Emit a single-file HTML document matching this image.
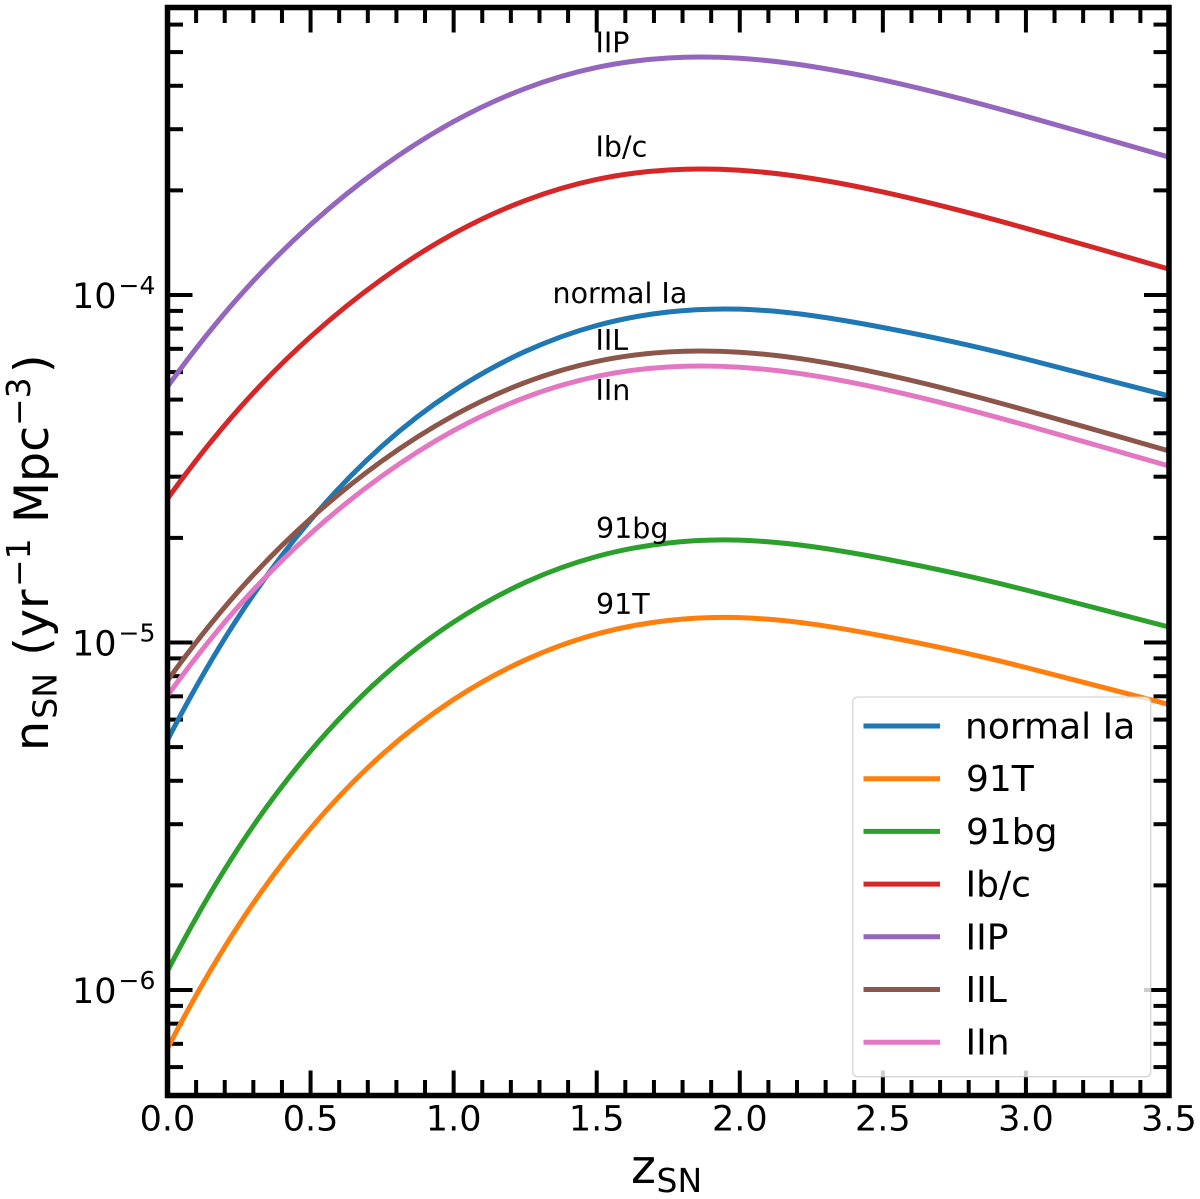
<!DOCTYPE html>
<html lang="en">
<head>
<meta charset="utf-8">
<title>Supernova rate density vs redshift</title>
<style>
html,body{margin:0;padding:0;background:#fff;}
svg{display:block;}
text{font-family:"DejaVu Sans","Liberation Sans",sans-serif;fill:#000;}
.tick{stroke:#000;fill:none;}
.spine{stroke:#000;stroke-width:5.5;fill:none;stroke-linejoin:miter;}
.curve{fill:none;stroke-width:5;}
.s0{stroke:#1f77b4;}.s1{stroke:#ff7f0e;}.s2{stroke:#2ca02c;}.s3{stroke:#d62728;}
.s4{stroke:#9467bd;}.s5{stroke:#8c564b;}.s6{stroke:#e377c2;}
.tl{font-size:35px;}
.sup{font-size:25px;}
.note{font-size:28.5px;}
.leg{font-size:36px;}
.leg-line{stroke-width:5;fill:none;}
.axt{font-size:47.5px;}
.axs{font-size:33px;}
</style>
</head>
<body>
<svg id="chart" xmlns="http://www.w3.org/2000/svg" width="1200" height="1199" viewBox="0 0 1200 1199">
  <defs><clipPath id="plot-clip"><rect x="167.5" y="7.5" width="1001.5" height="1088"/></clipPath></defs>
  <rect x="0" y="0" width="1200" height="1199" fill="#fff"/>
  <g id="ticks"></g>
  <g id="curves" clip-path="url(#plot-clip)"></g>

  <g>
    <text class="note" x="595.5" y="52.5">IIP</text>
    <text class="note" x="595.5" y="156.5">Ib/c</text>
    <text class="note" x="552.5" y="303">normal Ia</text>
    <text class="note" x="595.5" y="350">IIL</text>
    <text class="note" x="595.5" y="400">IIn</text>
    <text class="note" x="596" y="538">91bg</text>
    <text class="note" x="596" y="614">91T</text>
  </g>

  <g>
    <rect x="852.7" y="697" width="298" height="379.7" rx="5" ry="5" fill="#fff" fill-opacity="0.8" stroke="#ccc" stroke-opacity="0.8" stroke-width="1.3"/>
    <g><line class="leg-line s0" x1="863.5" x2="940" y1="726" y2="726"/><text class="leg" x="965" y="738.5">normal Ia</text></g>
    <g><line class="leg-line s1" x1="863.5" x2="940" y1="778.7" y2="778.7"/><text class="leg" x="966" y="791.2">91T</text></g>
    <g><line class="leg-line s2" x1="863.5" x2="940" y1="831.4" y2="831.4"/><text class="leg" x="966" y="843.9">91bg</text></g>
    <g><line class="leg-line s3" x1="863.5" x2="940" y1="884.1" y2="884.1"/><text class="leg" x="965.5" y="896.6">Ib/c</text></g>
    <g><line class="leg-line s4" x1="863.5" x2="940" y1="936.8" y2="936.8"/><text class="leg" x="965.5" y="949.3">IIP</text></g>
    <g><line class="leg-line s5" x1="863.5" x2="940" y1="989.5" y2="989.5"/><text class="leg" x="965.5" y="1002">IIL</text></g>
    <g><line class="leg-line s6" x1="863.5" x2="940" y1="1042.2" y2="1042.2"/><text class="leg" x="965.5" y="1054.7">IIn</text></g>
  </g>

  <rect class="spine" x="167.5" y="7.5" width="1001.5" height="1088"/>
  <g id="tick-labels"></g>

  <text transform="translate(48,751) rotate(-90)"><tspan class="axt" x="0" y="0">n</tspan><tspan class="axs" x="32.3" y="8.5">SN</tspan><tspan class="axt" x="95.3" y="0">(yr</tspan><tspan class="axs" x="164" y="-18">−1</tspan><tspan class="axt" x="228" y="0">Mpc</tspan><tspan class="axs" x="325" y="-18">−3</tspan><tspan class="axt" x="378" y="0">)</tspan></text>
  <text><tspan class="axt" x="631" y="1183">z</tspan><tspan class="axs" x="656.5" y="1192">SN</tspan></text>
</svg>

<script>
// Redshift sample positions
const redshifts = [0, 0.25, 0.5, 0.75, 1, 1.25, 1.5, 1.75, 2, 2.25, 2.5, 2.75, 3, 3.25, 3.5];
// Rate density values (yr^-1 Mpc^-3)
const normalIa = [5.24e-6, 1.192e-5, 2.252e-5, 3.677e-5, 5.293e-5, 6.879e-5, 8.171e-5, 8.935e-5, 9.103e-5, 8.73e-5, 8.063e-5, 7.32e-5, 6.544e-5, 5.789e-5, 5.122e-5];
const type91T = [6.79e-7, 1.544e-6, 2.916e-6, 4.761e-6, 6.855e-6, 8.908e-6, 1.058e-5, 1.157e-5, 1.179e-5, 1.131e-5, 1.044e-5, 9.479e-6, 8.474e-6, 7.497e-6, 6.633e-6];
const type91bg = [1.134e-6, 2.58e-6, 4.873e-6, 7.957e-6, 1.145e-5, 1.489e-5, 1.768e-5, 1.934e-5, 1.97e-5, 1.889e-5, 1.745e-5, 1.584e-5, 1.416e-5, 1.253e-5, 1.108e-5];
const typeIbc = [2.593e-5, 4.708e-5, 7.587e-5, 1.112e-4, 1.502e-4, 1.87e-4, 2.15e-4, 2.289e-4, 2.285e-4, 2.166e-4, 1.979e-4, 1.767e-4, 1.556e-4, 1.361e-4, 1.187e-4];
const typeIIP = [5.447e-5, 9.888e-5, 1.594e-4, 2.336e-4, 3.155e-4, 3.928e-4, 4.516e-4, 4.809e-4, 4.8e-4, 4.549e-4, 4.157e-4, 3.712e-4, 3.268e-4, 2.858e-4, 2.494e-4];
const typeIIL = [7.767e-6, 1.411e-5, 2.273e-5, 3.332e-5, 4.499e-5, 5.601e-5, 6.44e-5, 6.857e-5, 6.844e-5, 6.487e-5, 5.928e-5, 5.294e-5, 4.66e-5, 4.075e-5, 3.558e-5];
const typeIIn = [7.032e-6, 1.276e-5, 2.058e-5, 3.016e-5, 4.073e-5, 5.071e-5, 5.83e-5, 6.208e-5, 6.196e-5, 5.873e-5, 5.366e-5, 4.792e-5, 4.219e-5, 3.689e-5, 3.22e-5];
const seriesValues = [normalIa, type91T, type91bg, typeIbc, typeIIP, typeIIL, typeIIn];
const seriesKeys = ['normal-ia', '91t', '91bg', 'ibc', 'iip', 'iil', 'iin'];
// Tick values and labels
const xMajorTicks = [0, 0.5, 1, 1.5, 2, 2.5, 3, 3.5];
const xMajorLabels = ['0.0', '0.5', '1.0', '1.5', '2.0', '2.5', '3.0', '3.5'];
const xMinorTicks = [0.1,0.2,0.3,0.4,0.6,0.7,0.8,0.9,1.1,1.2,1.3,1.4,1.6,1.7,1.8,1.9,2.1,2.2,2.3,2.4,2.6,2.7,2.8,2.9,3.1,3.2,3.3,3.4];
const yMajorExponents = [-4, -5, -6];
const yMinorTicks = [6e-7,7e-7,8e-7,9e-7,2e-6,3e-6,4e-6,5e-6,6e-6,7e-6,8e-6,9e-6,2e-5,3e-5,4e-5,5e-5,6e-5,7e-5,8e-5,9e-5,2e-4,3e-4,4e-4,5e-4,6e-4];

const SVG_NS = 'http://www.w3.org/2000/svg';
const AX_LEFT = 167.5, AX_RIGHT = 1169, AX_TOP = 7.5, AX_BOTTOM = 1095.5;
const Y_AT_1E4 = 295, PX_PER_DECADE = 347.5;
const MAJOR_LEN = 25, MINOR_LEN = 15.5;

function xScale(z) { return AX_LEFT + (z / 3.5) * (AX_RIGHT - AX_LEFT); }
function yScale(v) { return Y_AT_1E4 - PX_PER_DECADE * (Math.log10(v) + 4); }

function makeLine(x1, y1, x2, y2, width) {
  const l = document.createElementNS(SVG_NS, 'line');
  l.setAttribute('x1', x1);
  l.setAttribute('y1', y1);
  l.setAttribute('x2', x2);
  l.setAttribute('y2', y2);
  l.setAttribute('class', 'tick');
  l.setAttribute('stroke-width', width);
  return l;
}

function makeText(x, y, cls, str) {
  const t = document.createElementNS(SVG_NS, 'text');
  t.setAttribute('x', x);
  t.setAttribute('y', y);
  t.setAttribute('class', cls);
  t.textContent = str;
  return t;
}

// C2 cubic spline through the samples (parabolic run-out ends), emitted as Beziers
function splinePath(pts) {
  const n = pts.length;
  const h = [];
  for (let i = 0; i < n - 1; i++) h.push(pts[i + 1][0] - pts[i][0]);
  const a = new Array(n).fill(0), b = new Array(n).fill(1), c = new Array(n).fill(0), r = new Array(n).fill(0);
  b[0] = 1; c[0] = -1;
  a[n - 1] = -1; b[n - 1] = 1;
  for (let i = 1; i < n - 1; i++) {
    a[i] = h[i - 1];
    b[i] = 2 * (h[i - 1] + h[i]);
    c[i] = h[i];
    r[i] = 6 * ((pts[i + 1][1] - pts[i][1]) / h[i] - (pts[i][1] - pts[i - 1][1]) / h[i - 1]);
  }
  for (let i = 1; i < n; i++) {
    const m = a[i] / b[i - 1];
    b[i] -= m * c[i - 1];
    r[i] -= m * r[i - 1];
  }
  const M = new Array(n).fill(0);
  M[n - 1] = r[n - 1] / b[n - 1];
  for (let i = n - 2; i >= 0; i--) M[i] = (r[i] - c[i] * M[i + 1]) / b[i];
  let d = 'M' + pts[0][0].toFixed(2) + ' ' + pts[0][1].toFixed(2);
  for (let i = 0; i < n - 1; i++) {
    const s = (pts[i + 1][1] - pts[i][1]) / h[i];
    const d0 = s - h[i] * (2 * M[i] + M[i + 1]) / 6;
    const d1 = s + h[i] * (M[i] + 2 * M[i + 1]) / 6;
    const c1x = pts[i][0] + h[i] / 3, c1y = pts[i][1] + d0 * h[i] / 3;
    const c2x = pts[i + 1][0] - h[i] / 3, c2y = pts[i + 1][1] - d1 * h[i] / 3;
    d += ' C' + c1x.toFixed(2) + ' ' + c1y.toFixed(2) + ' ' + c2x.toFixed(2) + ' ' + c2y.toFixed(2) + ' ' + pts[i + 1][0].toFixed(2) + ' ' + pts[i + 1][1].toFixed(2);
  }
  return d;
}

const tickLayer = document.getElementById('ticks');
const labelLayer = document.getElementById('tick-labels');
const curveLayer = document.getElementById('curves');

xMajorTicks.forEach(function (z, i) {
  const x = xScale(z);
  if (z > 0 && z < 3.5) {
    const bottom = makeLine(x, AX_BOTTOM, x, AX_BOTTOM - MAJOR_LEN, 4);
    
    
    tickLayer.appendChild(bottom);
    const top = makeLine(x, AX_TOP, x, AX_TOP + MAJOR_LEN, 4);
    
    
    tickLayer.appendChild(top);
  }
  const lab = makeText(x, 1130.5, 'tl', xMajorLabels[i]);
  lab.setAttribute('text-anchor', 'middle');
  
  
  labelLayer.appendChild(lab);
});

xMinorTicks.forEach(function (z) {
  const x = xScale(z);
  const bottom = makeLine(x, AX_BOTTOM, x, AX_BOTTOM - MINOR_LEN, 4);
  
  
  tickLayer.appendChild(bottom);
  const top = makeLine(x, AX_TOP, x, AX_TOP + MINOR_LEN, 4);
  
  
  tickLayer.appendChild(top);
});

yMajorExponents.forEach(function (e) {
  const y = yScale(Math.pow(10, e));
  const left = makeLine(AX_LEFT, y, AX_LEFT + MAJOR_LEN, y, 4);
  
  
  tickLayer.appendChild(left);
  const right = makeLine(AX_RIGHT, y, AX_RIGHT - MAJOR_LEN, y, 4);
  
  
  tickLayer.appendChild(right);
  const base = makeText(72, y + 13, 'tl', '10');
  
  
  labelLayer.appendChild(base);
  const sup = makeText(118.5, y - 1, 'sup', '\u2212' + Math.abs(e));
  
  
  labelLayer.appendChild(sup);
});

yMinorTicks.forEach(function (v) {
  const y = yScale(v);
  const left = makeLine(AX_LEFT, y, AX_LEFT + MINOR_LEN, y, 4);
  
  
  tickLayer.appendChild(left);
  const right = makeLine(AX_RIGHT, y, AX_RIGHT - MINOR_LEN, y, 4);
  
  
  tickLayer.appendChild(right);
});

seriesValues.forEach(function (values, i) {
  const pts = values.map(function (v, j) { return [xScale(redshifts[j]), yScale(v)]; });
  const path = document.createElementNS(SVG_NS, 'path');
  path.setAttribute('d', splinePath(pts));
  path.setAttribute('class', 'curve s' + i);
  
  
  curveLayer.appendChild(path);
});
</script>
</body>
</html>
